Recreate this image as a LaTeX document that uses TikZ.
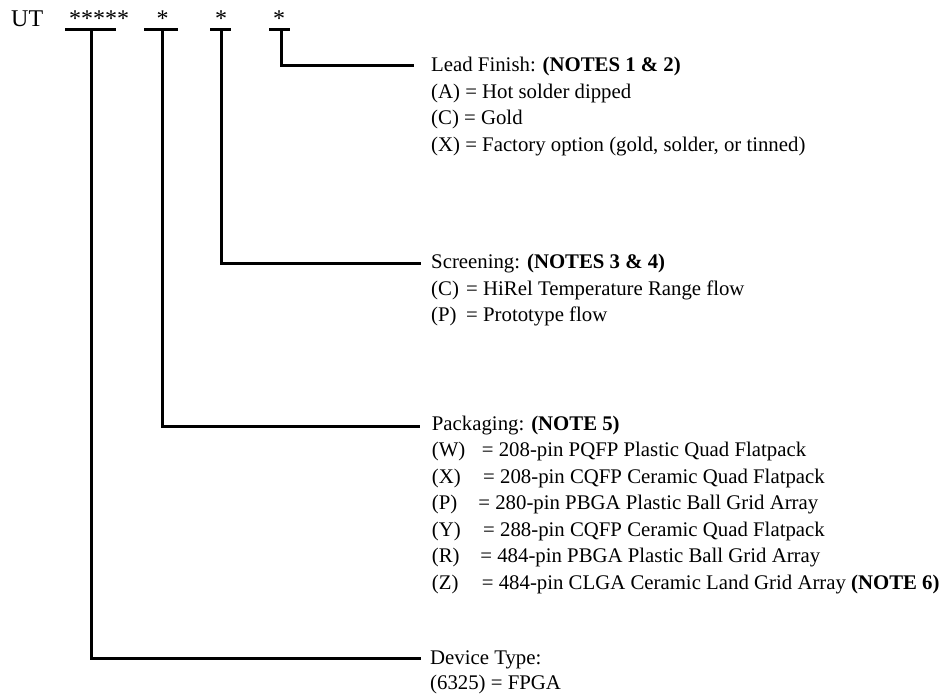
\documentclass[tikz,border=0pt]{standalone}
\usepackage{fontspec}
\setmainfont{Liberation Serif}
\begin{document}
\begin{tikzpicture}[x=1pt,y=-1pt,
  lbl/.style={anchor=base west,inner sep=0pt,font=\fontsize{20.8}{26.5}\selectfont},
  head/.style={anchor=base,inner sep=0pt,font=\fontsize{24}{28}\selectfont},
  wire/.style={line width=3pt,line cap=butt,line join=miter}]
\useasboundingbox (0,0) rectangle (951,694);
\newcommand{\tabW}[3]{\makebox[#1][l]{#2}#3}
% header
\node[head,anchor=base west] (ut) at (11,26) {UT};
\node[head] (s1) at (99,26) {*****};
\node[head] (s2) at (162.5,26) {*};
\node[head] (s3) at (221,26) {*};
\node[head] (s4) at (279,26) {*};
% bars
\coordinate (b1l) at (65,29); \coordinate (b1r) at (116,29); \coordinate (b1m) at (91.5,29);
\coordinate (b2l) at (144,29); \coordinate (b2r) at (178,29); \coordinate (b2m) at (162.7,29);
\coordinate (b3l) at (210,29); \coordinate (b3r) at (231,29); \coordinate (b3m) at (221.3,29);
\coordinate (b4l) at (269,29); \coordinate (b4r) at (290,29); \coordinate (b4m) at (281,29);
\coordinate (e4) at (414,65);
\coordinate (e3) at (421,263.3);
\coordinate (e2) at (420,426.7);
\coordinate (e1) at (421,658.5);
\draw[wire] (b1l) -- (b1r);
\draw[wire] (b2l) -- (b2r);
\draw[wire] (b3l) -- (b3r);
\draw[wire] (b4l) -- (b4r);
\draw[wire] (b4m) |- (e4);
\draw[wire] (b3m) |- (e3);
\draw[wire] (b2m) |- (e2);
\draw[wire] (b1m) |- (e1);
% Lead finish
\node[lbl] (lf) at (431,71.7) {Lead Finish: \textbf{(NOTES 1 \& 2)}};
\node[lbl] (lfa) at (431,98.2) {(A) = Hot solder dipped};
\node[lbl] (lfc) at (431,124.7) {(C) = Gold};
\node[lbl] (lfx) at (431,151.2) {(X) = Factory option (gold, solder, or tinned)};
% Screening
\node[lbl] (sc) at (431,268.5) {Screening: \textbf{(NOTES 3 \& 4)}};
\node[lbl] (scc) at (431,295) {\tabW{35pt}{(C)}{= HiRel Temperature Range flow}};
\node[lbl] (scp) at (431,321.5) {\tabW{35pt}{(P)}{= Prototype flow}};
% Packaging
\node[lbl] (pk) at (431.7,430) {Packaging: \textbf{(NOTE 5)}};
\node[lbl] (pkw) at (431.7,456.5) {\tabW{50pt}{(W)}{= 208-pin PQFP Plastic Quad Flatpack}};
\node[lbl] (pkx) at (431.7,483) {\tabW{51.3pt}{(X)}{= 208-pin CQFP Ceramic Quad Flatpack}};
\node[lbl] (pkp) at (431.7,509.5) {\tabW{46.5pt}{(P)}{= 280-pin PBGA Plastic Ball Grid Array}};
\node[lbl] (pky) at (431.7,536) {\tabW{51.3pt}{(Y)}{= 288-pin CQFP Ceramic Quad Flatpack}};
\node[lbl] (pkr) at (431.7,562.5) {\tabW{48.5pt}{(R)}{= 484-pin PBGA Plastic Ball Grid Array}};
\node[lbl] (pkz) at (431.7,589) {\tabW{50pt}{(Z)}{= 484-pin CLGA Ceramic Land Grid Array \textbf{(NOTE 6)}}};
% Device type
\node[lbl] (dt) at (430,664) {Device Type:};
\node[lbl] (dtf) at (430,689) {(6325) = FPGA};
\end{tikzpicture}
\end{document}
